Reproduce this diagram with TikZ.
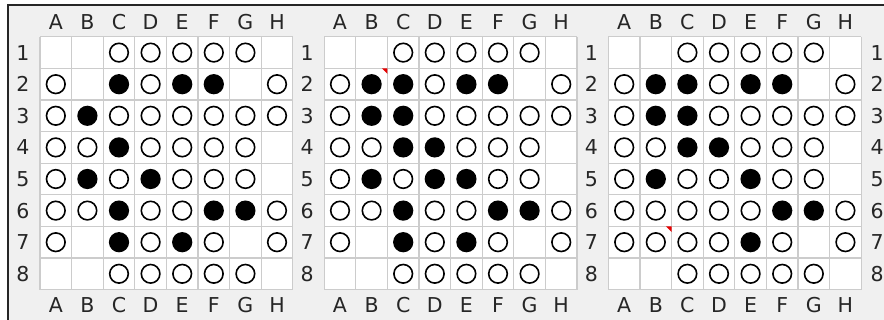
\documentclass[tikz,border=0pt]{standalone}
\usepackage{fontspec}
\setmainfont{DejaVu Sans}
\usepackage{tikz}

% cell width and top edge of the grids (in px = pt)
\def\cw{31.6}
\def\gy{36.8}

% #1 name, #2 left edge, #3 rows (0 empty, 1 white, 2 black)
\newcommand{\drawboard}[3]{%
  \fill[white] (#2,\gy) rectangle ++({8*\cw},{8*\cw});
  \foreach \k in {0,...,8} {
    \draw[gridline] ({#2+\k*\cw},\gy) -- ++(0,{8*\cw});
    \draw[gridline] (#2,{\gy+\k*\cw}) -- ++({8*\cw},0);
  }
  \foreach \l [count=\c] in {A,...,H} {
    \node[lbl] (#1top\c) at ({#2+(\c-0.5)*\cw},22) {\l};
    \node[lbl] (#1bot\c) at ({#2+(\c-0.5)*\cw},305) {\l};
  }
  \foreach \r in {1,...,8}
    \node[lbl] (#1row\r) at ({#2-17},{\gy+(\r-0.5)*\cw}) {\r};
  \foreach \rowvals [count=\r] in {#3} {
    \foreach \v [count=\c] in \rowvals {
      \ifcase\v\or
        \draw[whitestone] ({#2+(\c-0.5)*\cw},{\gy+(\r-0.5)*\cw}) circle[radius=9.3];
      \or
        \draw[blackstone] ({#2+(\c-0.5)*\cw},{\gy+(\r-0.5)*\cw}) circle[radius=9.3];
      \fi
    }
  }
}

\begin{document}
\begin{tikzpicture}[
    x=1pt, y=-1pt,
    gridline/.style={draw=black!20, line width=1.3pt},
    lbl/.style={inner sep=0pt, font=\fontsize{20.5}{20.5}\selectfont, text=black!85},
    whitestone/.style={draw=black, fill=white, line width=1.6pt},
    blackstone/.style={draw=black, fill=black, line width=1.6pt},
    lastmove/.style={fill=red!90!black},
    frame/.style={draw=black!85, line width=1.2pt}
]
\useasboundingbox (0,0) rectangle (884,320);
\fill[white] (0,0) rectangle (884,320);
\fill[black!6] (8,5) rectangle (884,320);
\draw[frame] (8,320) -- (8,5) -- (884,5);

% before
\drawboard{a}{40}{%
  {0,0,1,1,1,1,1,0},
  {1,0,2,1,2,2,0,1},
  {1,2,1,1,1,1,1,1},
  {1,1,2,1,1,1,1,0},
  {1,2,1,2,1,1,1,0},
  {1,1,2,1,1,2,2,1},
  {1,0,2,1,2,1,0,1},
  {0,0,1,1,1,1,1,0}}

% black plays B2
\drawboard{b}{324.2}{%
  {0,0,1,1,1,1,1,0},
  {1,2,2,1,2,2,0,1},
  {1,2,2,1,1,1,1,1},
  {1,1,2,2,1,1,1,0},
  {1,2,1,2,2,1,1,0},
  {1,1,2,1,1,2,2,1},
  {1,0,2,1,2,1,0,1},
  {0,0,1,1,1,1,1,0}}
\fill[lastmove] ({324.2+2*\cw},{\gy+\cw}) -- ++(-5.5,0) -- ++(5.5,5.5) -- cycle;

% white plays B7
\drawboard{c}{608.4}{%
  {0,0,1,1,1,1,1,0},
  {1,2,2,1,2,2,0,1},
  {1,2,2,1,1,1,1,1},
  {1,1,2,2,1,1,1,0},
  {1,2,1,1,2,1,1,0},
  {1,1,1,1,1,2,2,1},
  {1,1,1,1,2,1,0,1},
  {0,0,1,1,1,1,1,0}}
\foreach \r in {1,...,8}
  \node[lbl] (crowR\r) at ({608.4+8*\cw+16},{\gy+(\r-0.5)*\cw}) {\r};
\fill[lastmove] ({608.4+2*\cw},{\gy+6*\cw}) -- ++(-5.5,0) -- ++(5.5,5.5) -- cycle;
\end{tikzpicture}
\end{document}
